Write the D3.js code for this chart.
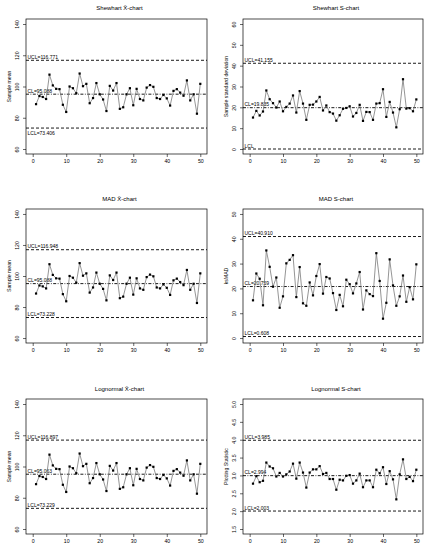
<!DOCTYPE html>
<html>
<head>
<meta charset="utf-8">
<script src="https://cdn.jsdelivr.net/npm/d3@7"></script>
<style>
  body { margin: 0; background: #fff; }
  svg text { font-family: "Liberation Sans", Arial, sans-serif; fill: #000; }
</style>
</head>
<body>
<svg id="chart" width="428" height="550"></svg>
<script>
// sample numbers on the x axis
const samples = d3.range(1, 51);

// sample means (shared by the three X-bar charts)
const sampleMeans = [88.7, 93.9, 93.3, 92.0, 107.6, 100.7, 98.5, 98.3, 88.3, 83.7,
                     100.0, 98.9, 95.7, 108.3, 100.2, 101.7, 89.3, 92.6, 102.2, 95.0,
                     91.7, 84.3, 100.4, 97.4, 102.2, 85.7, 86.7, 95.0, 98.9, 88.0,
                     98.5, 92.0, 91.1, 99.3, 100.9, 99.8, 92.6, 92.0, 94.6, 92.4,
                     87.8, 97.2, 98.3, 96.1, 94.1, 103.9, 91.1, 95.0, 82.6, 101.7];

// sample standard deviations
const sampleSd = [15.1, 18.3, 16.1, 18.0, 28.1, 23.9, 22.0, 19.9, 22.8, 18.1,
                  20.2, 21.8, 25.7, 17.5, 27.8, 21.8, 14.0, 21.2, 21.3, 22.8,
                  25.0, 18.5, 20.9, 17.7, 17.0, 13.6, 16.2, 19.3, 19.7, 20.5,
                  15.6, 17.3, 21.2, 13.5, 17.8, 17.7, 14.0, 21.8, 22.0, 28.7,
                  15.4, 22.6, 17.5, 10.4, 19.1, 33.5, 19.4, 19.6, 18.1, 23.8];

// ks * MAD
const ksMad = [15.2, 26.0, 23.9, 13.2, 35.3, 28.7, 20.7, 24.4, 12.2, 16.8,
               30.1, 31.5, 33.4, 16.5, 28.6, 14.0, 13.0, 22.4, 17.2, 25.0,
               29.8, 17.9, 24.6, 24.0, 18.1, 11.3, 17.4, 12.8, 23.5, 21.7,
               18.0, 22.0, 26.6, 11.5, 19.2, 17.7, 16.9, 34.2, 23.0, 7.8,
               14.2, 31.7, 21.2, 13.0, 16.8, 25.2, 14.6, 20.5, 15.6, 29.7];

// lognormal plotting statistic
const lognormalStat = [2.77, 2.98, 2.81, 2.85, 3.36, 3.25, 3.20, 2.97, 3.07, 2.97,
                       3.03, 3.11, 3.33, 2.91, 3.36, 3.08, 2.66, 3.08, 3.17, 3.17,
                       3.26, 3.04, 3.07, 2.90, 2.90, 2.60, 2.88, 2.86, 2.99, 3.01,
                       2.77, 2.86, 3.05, 2.67, 2.86, 2.86, 2.67, 3.16, 3.06, 3.23,
                       2.76, 3.12, 2.89, 2.33, 3.03, 3.45, 2.90, 2.96, 2.84, 3.16];

// control limits: UCL, CL, LCL
const shewhartXLimits = [116.771, 95.088, 73.406];
const shewhartSLimits = [41.155, 19.835, 0];
const madXLimits = [116.948, 95.088, 73.228];
const madSLimits = [40.910, 20.759, 0.608];
const lognormalXLimits = [116.897, 95.063, 73.229];
const lognormalSLimits = [3.985, 2.994, 2.003];

const limitNames = ["UCL", "CL", "LCL"];

// tick labels
const xTicks = [0, 10, 20, 30, 40, 50];
const meanTicks = [60, 80, 100, 120, 140];
const sdTicks = [0, 10, 20, 30, 40, 50, 60];
const madTicks = [0, 10, 20, 30, 40, 50];
const logTicks = [1.5, 2.0, 2.5, 3.0, 3.5, 4.0, 4.5, 5.0];

// panel layout
const leftX = [26, 207], rightX = [243, 423];
const rows = [[19, 154], [209, 343], [399, 534]];
const titleY = [10, 201, 391];

const panels = [
  { title: "Shewhart  X\u0304-chart", ylab: "Sample mean", values: sampleMeans, limits: shewhartXLimits,
    ticks: meanTicks, fmt: d3.format("d"), xs: leftX, row: 0, lclBelow: true },
  { title: "Shewhart  S-chart", ylab: "Sample standard deviation", values: sampleSd, limits: shewhartSLimits,
    ticks: sdTicks, fmt: d3.format("d"), xs: rightX, row: 0, lclPlain: true },
  { title: "MAD  X\u0304-chart", ylab: "Sample mean", values: sampleMeans, limits: madXLimits,
    ticks: meanTicks, fmt: d3.format("d"), xs: leftX, row: 1 },
  { title: "MAD  S-chart", ylab: "ksMAD", values: ksMad, limits: madSLimits,
    ticks: madTicks, fmt: d3.format("d"), xs: rightX, row: 1 },
  { title: "Lognormal  X\u0304-chart", ylab: "Sample mean", values: sampleMeans, limits: lognormalXLimits,
    ticks: meanTicks, fmt: d3.format("d"), xs: leftX, row: 2 },
  { title: "Lognormal  S-chart", ylab: "Plotting Statistic", values: lognormalStat, limits: lognormalSLimits,
    ticks: logTicks, fmt: d3.format(".1f"), xs: rightX, row: 2 }
];

const svg = d3.select("#chart");
const limitFmt = d3.format(".3f");

panels.forEach(p => {
  const [x0, x1] = p.xs;
  const [y0, y1] = rows[p.row];

  // R-style 4% padding around the axis range
  const yMin = d3.min(p.ticks), yMax = d3.max(p.ticks);
  const yPad = (yMax - yMin) * 0.04;
  const x = d3.scaleLinear().domain([-2, 52]).range([x0, x1]);
  const y = d3.scaleLinear().domain([yMin - yPad, yMax + yPad]).range([y1, y0]);

  const g = svg.append("g");

  // title
  g.append("text")
    .attr("x", (x0 + x1) / 2 + 3)
    .attr("y", titleY[p.row])
    .attr("text-anchor", "middle")
    .style("font-size", "6px")
    .text(p.title);

  // x axis
  const xAxis = d3.axisBottom(x).tickValues(xTicks).tickSize(3).tickPadding(2);
  g.append("g")
    .attr("transform", `translate(0,${y1})`)
    .call(xAxis)
    .call(a => a.select(".domain").remove())
    .call(a => a.selectAll("line").attr("stroke", "#000").attr("stroke-width", 0.6))
    .call(a => a.selectAll("text").style("font-size", "5.2px").style("font-family", "Liberation Sans, Arial, sans-serif"));

  // y axis with rotated labels
  const yAxis = d3.axisLeft(y).tickValues(p.ticks).tickFormat(p.fmt).tickSize(3).tickPadding(2);
  g.append("g")
    .attr("transform", `translate(${x0},0)`)
    .call(yAxis)
    .call(a => a.select(".domain").remove())
    .call(a => a.selectAll("line").attr("stroke", "#000").attr("stroke-width", 0.6))
    .call(a => a.selectAll("text")
      .style("font-size", "5.2px")
      .style("font-family", "Liberation Sans, Arial, sans-serif")
      .attr("text-anchor", "middle")
      .attr("dy", null)
      .attr("x", null)
      .attr("transform", "translate(-7,0) rotate(-90)"));

  // y axis title
  g.append("text")
    .attr("transform", `translate(${x0 - 15},${(y0 + y1) / 2}) rotate(-90)`)
    .attr("text-anchor", "middle")
    .style("font-size", "5.2px")
    .text(p.ylab);

  // plot box
  g.append("rect")
    .attr("x", x0).attr("y", y0)
    .attr("width", x1 - x0).attr("height", y1 - y0)
    .attr("fill", "none")
    .attr("stroke", "#000")
    .attr("stroke-width", 0.7);

  // control limit lines
  p.limits.forEach((v, i) => {
    g.append("line")
      .attr("x1", x0).attr("x2", x1)
      .attr("y1", y(v)).attr("y2", y(v))
      .attr("stroke", "#000")
      .attr("stroke-width", 0.9)
      .attr("stroke-dasharray", i === 1 ? "3,1.5,0.8,1.5" : "3,2");

    const below = i === 2 && p.lclBelow;
    const label = (i === 2 && p.lclPlain) ? "LCL" : `${limitNames[i]}=${limitFmt(v)}`;
    g.append("text")
      .attr("x", x0 + 1.5)
      .attr("y", below ? y(v) + 6.5 : y(v) - 1.5)
      .style("font-size", "5px")
      .text(label);
  });

  // series line
  const line = d3.line()
    .x((d, i) => x(samples[i]))
    .y(d => y(d));

  g.append("path")
    .datum(p.values)
    .attr("d", line)
    .attr("fill", "none")
    .attr("stroke", "#7a7a7a")
    .attr("stroke-width", 0.8);

  // point markers
  g.selectAll("rect.pt")
    .data(p.values)
    .enter()
    .append("rect")
    .attr("class", "pt")
    .attr("x", (d, i) => x(samples[i]) - 1.1)
    .attr("y", d => y(d) - 1.1)
    .attr("width", 2.2)
    .attr("height", 2.2)
    .attr("fill", "#000");
});
</script>
</body>
</html>
